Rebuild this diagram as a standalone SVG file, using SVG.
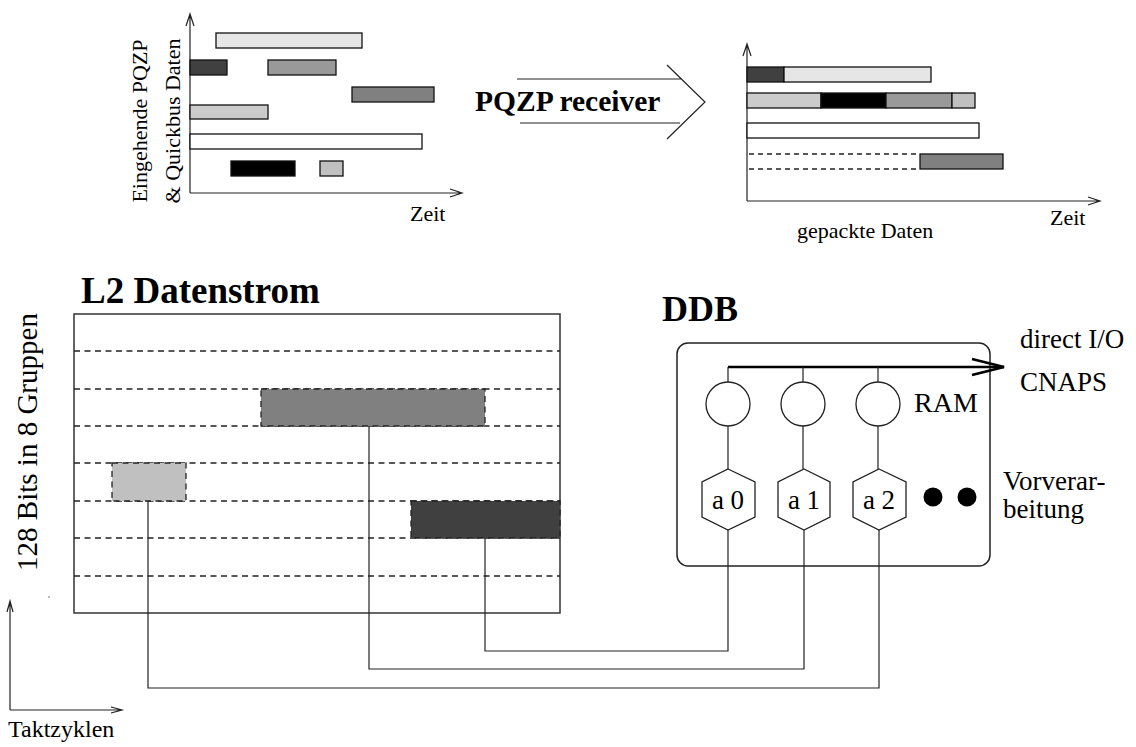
<svg xmlns="http://www.w3.org/2000/svg" width="1136" height="747" viewBox="0 0 1136 747">
  <defs>
    <style>
      text { font-family: "Liberation Serif", "Times New Roman", serif; fill: #000; }
      .lbl { font-size: 22px; }
      .big { font-size: 29px; }
      .bold { font-weight: bold; }
      .axis { stroke: #222; stroke-width: 1.2; fill: none; }
      .bar { stroke: #111; stroke-width: 1.3; }
      .dash { stroke: #222; stroke-width: 1.3; stroke-dasharray: 6 4.5; fill: none; }
      .wire { stroke: #222; stroke-width: 1.2; fill: none; }
      .frame { stroke: #333; stroke-width: 1.5; fill: #fff; }
      .cell { stroke: #222; stroke-width: 1.3; stroke-dasharray: 6 4.5; }
    </style>
  </defs>
  <rect width="1136" height="747" fill="#fff"/>

  <!-- incoming data: time diagram -->
  <g id="incoming-chart">
    <path class="axis" d="M190 193 V14 M186 26 L190 14 L194 26 M190 193 H462 M450 189 L462 193 L450 197"/>
    <rect class="bar" x="216" y="33" width="146" height="15" fill="#e6e6e6"/>
    <rect class="bar" x="190" y="60" width="37" height="15" fill="#404040"/>
    <rect class="bar" x="268" y="60" width="68" height="15" fill="#999"/>
    <rect class="bar" x="352" y="87" width="82" height="15" fill="#808080"/>
    <rect class="bar" x="190" y="105" width="78" height="14" fill="#cbcbcb"/>
    <rect class="bar" x="190" y="134" width="232" height="15" fill="#fff"/>
    <rect class="bar" x="231" y="161" width="64" height="15" fill="#000"/>
    <rect class="bar" x="320" y="161" width="23" height="15" fill="#c0c0c0"/>
    <text class="lbl" transform="translate(147 121) rotate(-90)" text-anchor="middle">Eingehende PQZP</text>
    <text class="lbl" transform="translate(180 121) rotate(-90)" text-anchor="middle">&amp; Quickbus Daten</text>
    <text class="lbl" x="410" y="221">Zeit</text>
  </g>

  <!-- receiver arrow -->
  <g id="pqzp-receiver">
    <path class="axis" d="M517 79 H682 M520 123 H680 M667 65 L705 102 L667 139"/>
    <text class="bold" x="475" y="111" style="font-size:29.5px">PQZP receiver</text>
  </g>

  <!-- packed data: time diagram -->
  <g id="packed-chart">
    <path class="axis" d="M747 201 V44 M743 56 L747 44 L751 56 M747 201 H1100 M1088 197 L1100 201 L1088 205"/>
    <rect class="bar" x="747" y="67" width="37" height="15" fill="#404040"/>
    <rect class="bar" x="784" y="67" width="147" height="15" fill="#e6e6e6"/>
    <rect class="bar" x="747" y="93" width="74" height="15" fill="#cbcbcb"/>
    <rect class="bar" x="821" y="93" width="65" height="15" fill="#000"/>
    <rect class="bar" x="886" y="93" width="66" height="15" fill="#999"/>
    <rect class="bar" x="952" y="93" width="23" height="15" fill="#c0c0c0"/>
    <rect class="bar" x="747" y="123" width="232" height="15" fill="#fff"/>
    <path class="dash" d="M749 154 H920 M749 169 H920" style="stroke-dasharray:5 4"/>
    <rect class="bar" x="920" y="154" width="83" height="15" fill="#808080"/>
    <text class="lbl" x="1050" y="225">Zeit</text>
    <text class="lbl" x="797" y="238">gepackte Daten</text>
  </g>

  <!-- L2 data stream -->
  <g id="l2-datenstrom">
    <text class="bold" x="81" y="303" style="font-size:37px">L2 Datenstrom</text>
    <rect class="frame" x="74" y="314" width="486" height="299"/>
    <path class="dash" d="M74 351 H560 M74 389 H560 M74 426 H560 M74 463 H560 M74 501 H560 M74 538 H560 M74 576 H560"/>
    <rect class="cell" x="261" y="389" width="224" height="37" fill="#808080"/>
    <rect class="cell" x="112" y="463" width="74" height="38" fill="#c0c0c0"/>
    <rect class="cell" x="411" y="501" width="149" height="37" fill="#404040"/>
    <text class="big" transform="translate(37 442) rotate(-90)" text-anchor="middle">128 Bits in 8 Gruppen</text>
  </g>

  <!-- clock-cycle axes -->
  <g id="takt-axes">
    <path class="axis" d="M10 710 V601 M7 612 L10 601 L13 612 M10 710 H122 M111 707 L122 710 L111 713"/>
    <circle cx="49" cy="597" r="0.7" fill="#444"/>
    <text x="8" y="737" style="font-size:24px">Taktzyklen</text>
  </g>

  <!-- DDB board -->
  <g id="ddb">
    <text class="bold" x="662" y="321" style="font-size:36px">DDB</text>
    <rect x="677" y="343" width="313" height="223" rx="11" ry="11" fill="none" stroke="#222" stroke-width="1.5"/>
    <path d="M728 367 H1004" stroke="#000" stroke-width="2.6" fill="none"/>
    <path d="M972 359 L1004 367 L972 375" stroke="#000" stroke-width="2.4" fill="none"/>
    <path class="wire" d="M728 367 V382 M803 367 V382 M878 367 V382 M728 426 V469 M803 426 V469 M878 426 V469"/>
    <g id="ram">
      <circle cx="728" cy="404" r="22" fill="#fff" stroke="#222" stroke-width="1.3"/>
      <circle cx="803" cy="404" r="22" fill="#fff" stroke="#222" stroke-width="1.3"/>
      <circle cx="878" cy="404" r="22" fill="#fff" stroke="#222" stroke-width="1.3"/>
      <text x="914" y="412" style="font-size:28px">RAM</text>
    </g>
    <g id="a0">
      <polygon points="728,469 755,482 755,517 728,530 702,517 702,482" fill="#fff" stroke="#222" stroke-width="1.3"/>
      <text x="728" y="509" text-anchor="middle" style="font-size:27px">a 0</text>
    </g>
    <g id="a1">
      <polygon points="804,469 830,482 830,517 804,530 778,517 778,482" fill="#fff" stroke="#222" stroke-width="1.3"/>
      <text x="804" y="509" text-anchor="middle" style="font-size:27px">a 1</text>
    </g>
    <g id="a2">
      <polygon points="879,469 906,482 906,517 879,530 853,517 853,482" fill="#fff" stroke="#222" stroke-width="1.3"/>
      <text x="879" y="509" text-anchor="middle" style="font-size:27px">a 2</text>
    </g>
    <circle cx="933" cy="497" r="9.5" fill="#000"/>
    <circle cx="967" cy="497" r="9.5" fill="#000"/>
    <text x="1020" y="348" style="font-size:27px">direct I/O</text>
    <text x="1020" y="391" style="font-size:27px">CNAPS</text>
    <text x="1003" y="490" style="font-size:27px">Vorverar-</text>
    <text x="1003" y="518" style="font-size:27px">beitung</text>
  </g>

  <!-- links from data groups to the preprocessors -->
  <g id="connectors">
    <path class="wire" d="M485 538 V651 H728 V530"/>
    <path class="wire" d="M369 426 V669 H804 V530"/>
    <path class="wire" d="M148 501 V688 H879 V530"/>
  </g>
</svg>
